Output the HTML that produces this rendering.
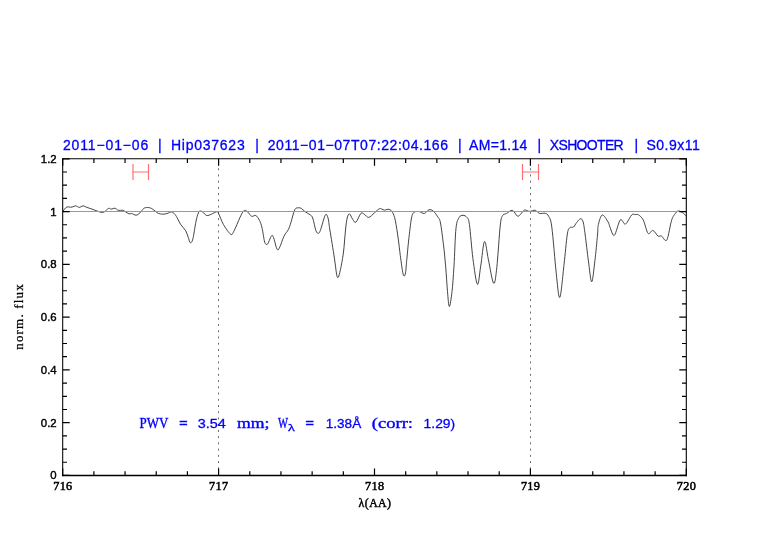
<!DOCTYPE html>
<html><head><meta charset="utf-8"><style>
html,body{margin:0;padding:0;background:#fff;width:782px;height:542px;overflow:hidden;font-family:"Liberation Serif",serif;}
svg{display:block;will-change:transform}
</style></head><body>
<svg width="782" height="542" viewBox="0 0 782 542">
<rect width="782" height="542" fill="#fff"/>
<line x1="218.5" y1="162.0" x2="218.5" y2="475.45" stroke="#707070" stroke-width="1" stroke-dasharray="2 4.231"/>
<line x1="530.5" y1="162.0" x2="530.5" y2="475.45" stroke="#707070" stroke-width="1" stroke-dasharray="2 4.231"/>
<path d="M63.2 211.0 C63.4 210.7 63.9 209.8 64.5 209.1 C65.1 208.4 66.2 207.2 67.0 206.9 C67.8 206.6 68.8 207.1 69.6 207.1 C70.4 207.1 71.1 207.3 72.1 207.1 C73.1 206.9 74.6 205.8 75.8 205.8 C77.0 205.9 78.0 207.4 79.2 207.4 C80.4 207.4 81.7 205.9 83.0 205.9 C84.3 205.9 85.4 206.9 86.9 207.4 C88.4 207.9 90.3 208.5 92.0 209.1 C93.7 209.7 95.6 210.5 97.1 211.0 C98.6 211.5 99.7 212.1 100.9 212.3 C102.1 212.5 102.8 212.7 104.1 212.0 C105.4 211.3 107.4 208.9 108.6 208.4 C109.8 207.9 110.1 209.1 111.2 209.1 C112.3 209.1 113.8 208.0 115.0 208.2 C116.2 208.4 116.9 210.0 118.2 210.3 C119.5 210.7 121.5 210.1 122.7 210.3 C123.9 210.5 124.1 211.0 125.2 211.6 C126.3 212.2 128.0 213.6 129.1 213.9 C130.2 214.2 130.4 213.3 131.6 213.5 C132.8 213.7 134.7 215.3 136.1 215.2 C137.5 215.1 138.6 214.0 139.9 212.9 C141.2 211.8 142.5 209.3 143.8 208.4 C145.1 207.5 146.3 207.5 147.6 207.5 C148.9 207.5 150.0 207.7 151.4 208.4 C152.8 209.1 154.8 210.8 155.9 211.6 C157.0 212.4 157.1 212.9 158.2 213.3 C159.3 213.7 161.2 214.2 162.7 214.2 C164.2 214.2 165.6 213.9 167.1 213.5 C168.6 213.1 170.3 211.9 171.6 212.0 C172.9 212.1 173.7 213.0 174.8 214.2 C175.9 215.4 177.0 217.6 178.0 219.3 C179.0 221.0 179.3 222.5 180.6 224.4 C181.9 226.3 184.4 228.7 185.7 230.8 C187.0 232.9 187.4 235.2 188.2 237.2 C189.0 239.2 189.5 242.4 190.3 242.7 C191.1 243.0 192.0 242.3 192.9 238.8 C193.8 235.3 195.0 226.2 195.9 221.9 C196.8 217.6 197.6 214.6 198.4 212.8 C199.2 211.0 199.8 211.1 200.5 211.0 C201.2 210.9 201.5 211.2 202.6 212.0 C203.7 212.8 205.4 215.1 206.8 215.5 C208.2 215.9 209.6 214.8 211.3 214.2 C213.0 213.5 215.8 211.8 217.0 211.6 C218.2 211.4 217.2 210.8 218.3 212.9 C219.4 215.0 221.4 220.9 223.4 224.4 C225.4 227.9 228.9 233.0 230.6 234.2 C232.3 235.3 232.2 234.1 233.8 231.3 C235.4 228.5 238.5 220.6 240.0 217.4 C241.5 214.2 242.1 213.1 242.9 211.9 C243.7 210.7 244.2 210.4 245.0 210.4 C245.8 210.4 246.5 210.9 247.6 211.9 C248.7 212.9 250.3 215.7 251.7 216.3 C253.1 216.9 254.5 214.8 255.8 215.5 C257.1 216.2 258.6 218.5 259.6 220.6 C260.7 222.7 261.2 224.6 262.1 228.2 C263.0 231.8 263.8 239.5 264.7 242.1 C265.6 244.7 266.3 245.1 267.6 244.0 C268.9 242.9 270.8 234.7 272.4 235.5 C273.9 236.3 275.7 246.8 276.9 248.9 C278.1 251.0 278.2 250.0 279.4 247.9 C280.6 245.8 282.4 239.5 283.9 236.4 C285.4 233.3 287.2 231.8 288.4 229.5 C289.6 227.2 289.8 225.8 290.9 222.5 C292.0 219.2 293.5 212.1 294.8 209.7 C296.1 207.2 297.5 208.0 298.6 207.8 C299.7 207.6 300.1 207.8 301.2 208.4 C302.3 209.0 303.5 210.5 305.0 211.6 C306.5 212.7 308.8 213.7 310.1 214.8 C311.4 215.9 311.7 215.4 312.7 218.0 C313.7 220.6 314.9 228.0 315.9 230.6 C316.8 233.2 317.7 233.3 318.4 233.3 C319.1 233.3 319.1 233.6 320.3 230.6 C321.5 227.6 324.0 217.2 325.3 215.1 C326.6 213.0 327.2 215.5 328.0 218.0 C328.8 220.5 328.8 223.3 329.9 230.0 C331.0 236.7 333.2 250.3 334.4 258.1 C335.6 265.9 336.3 274.4 337.2 276.8 C338.1 279.2 338.8 276.4 339.8 272.4 C340.8 268.4 342.4 260.1 343.4 253.0 C344.3 245.9 344.9 235.8 345.5 230.0 C346.1 224.2 346.5 220.7 347.2 218.0 C347.9 215.3 348.6 213.7 349.5 213.9 C350.4 214.1 351.6 217.9 352.7 219.3 C353.8 220.7 354.5 223.2 355.9 222.2 C357.3 221.2 359.5 214.7 360.9 213.4 C362.3 212.1 362.9 213.5 364.2 214.2 C365.5 214.9 367.0 217.6 368.7 217.4 C370.4 217.2 372.6 214.4 374.4 212.9 C376.2 211.4 378.1 209.3 379.4 208.7 C380.6 208.1 381.0 208.9 381.9 209.1 C382.8 209.3 383.4 210.1 384.6 210.1 C385.8 210.1 387.8 208.9 389.1 209.3 C390.4 209.7 391.5 210.6 392.5 212.4 C393.5 214.2 394.3 215.8 395.3 220.4 C396.3 225.0 397.6 234.2 398.4 240.0 C399.2 245.8 399.5 249.8 400.3 255.5 C401.1 261.2 402.3 270.9 403.1 274.0 C403.9 277.1 404.7 276.4 405.3 274.0 C405.9 271.6 406.2 265.1 406.8 259.4 C407.4 253.7 407.9 246.9 408.7 240.0 C409.5 233.1 410.6 222.6 411.5 218.0 C412.4 213.4 412.8 213.4 414.1 212.3 C415.4 211.2 417.5 211.4 419.2 211.6 C420.9 211.8 422.7 213.8 424.3 213.5 C425.9 213.2 427.4 210.2 428.9 209.8 C430.4 209.4 431.7 209.8 433.2 211.0 C434.7 212.2 436.6 214.9 437.8 216.9 C439.0 218.9 439.6 218.3 440.5 223.0 C441.4 227.7 442.6 237.8 443.5 244.9 C444.4 252.0 444.9 258.0 445.6 265.8 C446.3 273.6 446.9 284.9 447.5 291.7 C448.1 298.5 448.6 306.5 449.4 306.5 C450.1 306.5 451.2 298.5 452.0 291.7 C452.8 284.9 453.3 276.4 454.0 265.8 C454.7 255.2 455.1 236.3 456.0 228.2 C456.9 220.1 458.0 219.6 459.2 217.4 C460.4 215.2 461.7 215.3 463.0 215.3 C464.3 215.3 465.8 215.9 466.9 217.4 C468.0 218.9 468.4 217.6 469.4 224.4 C470.4 231.2 471.6 248.4 472.9 258.4 C474.2 268.4 476.1 283.0 477.4 284.3 C478.7 285.6 479.5 273.3 480.7 266.2 C481.9 259.1 483.2 242.7 484.5 241.6 C485.8 240.5 486.9 252.8 488.4 259.7 C489.9 266.6 492.2 281.9 493.6 283.2 C495.0 284.5 495.7 277.2 496.8 267.5 C497.9 257.8 499.3 233.7 500.3 225.0 C501.3 216.3 501.7 217.4 502.7 215.5 C503.7 213.6 504.9 214.4 506.5 213.5 C508.1 212.6 510.5 209.9 512.3 210.3 C514.1 210.7 516.0 215.4 517.4 216.1 C518.8 216.8 519.4 215.2 520.6 214.2 C521.8 213.2 522.9 210.6 524.4 210.1 C525.9 209.6 527.7 211.4 529.5 211.4 C531.3 211.4 533.6 210.0 535.3 210.3 C536.9 210.6 537.7 212.9 539.4 213.4 C541.1 213.9 543.8 212.9 545.3 213.3 C546.8 213.8 547.4 213.8 548.5 216.1 C549.6 218.4 550.5 217.4 551.8 227.0 C553.1 236.6 555.0 262.1 556.3 273.8 C557.6 285.5 558.5 298.9 559.8 297.4 C561.1 295.9 562.8 275.1 564.0 264.7 C565.2 254.3 566.3 241.2 567.2 235.0 C568.1 228.8 568.6 229.1 569.6 227.8 C570.6 226.5 572.3 227.9 573.5 227.0 C574.7 226.1 575.5 223.9 576.7 222.5 C577.9 221.1 579.4 218.9 580.5 218.8 C581.6 218.7 582.3 219.2 583.1 221.9 C583.9 224.6 584.3 228.5 585.2 235.0 C586.1 241.5 587.3 253.0 588.4 260.8 C589.5 268.6 590.6 281.8 591.7 281.8 C592.8 281.8 593.9 268.6 594.9 260.8 C595.9 253.0 596.9 241.1 597.5 235.0 C598.1 228.9 597.6 227.7 598.4 224.4 C599.2 221.1 600.7 215.4 602.3 215.0 C603.9 214.6 606.7 219.9 608.0 221.9 C609.3 223.9 609.0 225.0 610.0 227.2 C611.0 229.4 612.6 236.5 614.3 235.3 C616.0 234.1 618.5 221.9 620.2 220.0 C621.9 218.1 623.5 223.6 624.6 224.0 C625.7 224.4 625.8 224.0 627.0 222.5 C628.2 221.0 630.4 216.1 631.8 214.8 C633.2 213.5 634.1 214.6 635.2 214.6 C636.3 214.6 637.1 214.0 638.5 214.9 C639.9 215.8 641.7 217.0 643.3 220.1 C644.9 223.2 646.5 231.7 648.1 233.4 C649.7 235.1 651.2 230.0 652.9 230.4 C654.6 230.8 656.7 235.2 658.1 236.1 C659.5 237.0 660.0 235.3 661.5 236.0 C663.0 236.7 665.1 242.6 666.8 240.0 C668.5 237.4 670.1 224.8 671.6 220.3 C673.1 215.8 674.4 214.8 675.5 213.2 C676.6 211.6 677.3 211.1 678.5 211.0 C679.7 210.9 681.2 211.7 682.5 212.6 C683.8 213.5 685.8 215.7 686.4 216.3" fill="none" stroke="#303030" stroke-width="0.9" stroke-linejoin="round"/>
<line x1="62.7" y1="211.5" x2="686.3" y2="211.5" stroke="#ff6e6e" stroke-width="1.2"/>
<path d="M133.0 164 V180 M148.5 164 V180 M133.0 172 H148.5" fill="none" stroke="#ff7070" stroke-width="1.2"/>
<path d="M522.5 164 V180 M538.5 164 V180 M522.5 172 H538.5" fill="none" stroke="#ff7070" stroke-width="1.2"/>
<path d="M62.70 475.45 v-7 M62.70 158.8 v7 M93.88 475.45 v-4.3 M93.88 158.8 v4.3 M125.06 475.45 v-4.3 M125.06 158.8 v4.3 M156.24 475.45 v-4.3 M156.24 158.8 v4.3 M187.42 475.45 v-4.3 M187.42 158.8 v4.3 M218.60 475.45 v-7 M218.60 158.8 v7 M249.78 475.45 v-4.3 M249.78 158.8 v4.3 M280.96 475.45 v-4.3 M280.96 158.8 v4.3 M312.14 475.45 v-4.3 M312.14 158.8 v4.3 M343.32 475.45 v-4.3 M343.32 158.8 v4.3 M374.50 475.45 v-7 M374.50 158.8 v7 M405.68 475.45 v-4.3 M405.68 158.8 v4.3 M436.86 475.45 v-4.3 M436.86 158.8 v4.3 M468.04 475.45 v-4.3 M468.04 158.8 v4.3 M499.22 475.45 v-4.3 M499.22 158.8 v4.3 M530.40 475.45 v-7 M530.40 158.8 v7 M561.58 475.45 v-4.3 M561.58 158.8 v4.3 M592.76 475.45 v-4.3 M592.76 158.8 v4.3 M623.94 475.45 v-4.3 M623.94 158.8 v4.3 M655.12 475.45 v-4.3 M655.12 158.8 v4.3 M686.30 475.45 v-7 M686.30 158.8 v7 M62.7 475.45 h7 M686.3 475.45 h-7 M62.7 462.26 h4.3 M686.3 462.26 h-4.3 M62.7 449.06 h4.3 M686.3 449.06 h-4.3 M62.7 435.87 h4.3 M686.3 435.87 h-4.3 M62.7 422.68 h7 M686.3 422.68 h-7 M62.7 409.48 h4.3 M686.3 409.48 h-4.3 M62.7 396.29 h4.3 M686.3 396.29 h-4.3 M62.7 383.09 h4.3 M686.3 383.09 h-4.3 M62.7 369.90 h7 M686.3 369.90 h-7 M62.7 356.71 h4.3 M686.3 356.71 h-4.3 M62.7 343.51 h4.3 M686.3 343.51 h-4.3 M62.7 330.32 h4.3 M686.3 330.32 h-4.3 M62.7 317.12 h7 M686.3 317.12 h-7 M62.7 303.93 h4.3 M686.3 303.93 h-4.3 M62.7 290.74 h4.3 M686.3 290.74 h-4.3 M62.7 277.54 h4.3 M686.3 277.54 h-4.3 M62.7 264.35 h7 M686.3 264.35 h-7 M62.7 251.16 h4.3 M686.3 251.16 h-4.3 M62.7 237.96 h4.3 M686.3 237.96 h-4.3 M62.7 224.77 h4.3 M686.3 224.77 h-4.3 M62.7 211.57 h7 M686.3 211.57 h-7 M62.7 198.38 h4.3 M686.3 198.38 h-4.3 M62.7 185.19 h4.3 M686.3 185.19 h-4.3 M62.7 171.99 h4.3 M686.3 171.99 h-4.3 M62.7 158.80 h7 M686.3 158.80 h-7" fill="none" stroke="#000" stroke-width="1.2"/>
<path d="M62.7 158.25 V476.15" stroke="#000" stroke-width="1.05" fill="none"/>
<path d="M686.3 158.25 V476.15" stroke="#000" stroke-width="1.1" fill="none"/>
<path d="M62.2 158.8 H686.8499999999999" stroke="#000" stroke-width="1.1" fill="none"/>
<path d="M62.2 475.45 H686.8499999999999" stroke="#000" stroke-width="1.5" fill="none"/>
<text x="62.7" y="490.3" text-anchor="middle" font-family="Liberation Serif, serif" font-size="12.2" fill="#000" stroke="#000" stroke-width="0.55" textLength="19.0" lengthAdjust="spacing">716</text>
<text x="218.6" y="490.3" text-anchor="middle" font-family="Liberation Serif, serif" font-size="12.2" fill="#000" stroke="#000" stroke-width="0.55" textLength="19.0" lengthAdjust="spacing">717</text>
<text x="374.5" y="490.3" text-anchor="middle" font-family="Liberation Serif, serif" font-size="12.2" fill="#000" stroke="#000" stroke-width="0.55" textLength="19.0" lengthAdjust="spacing">718</text>
<text x="530.4" y="490.3" text-anchor="middle" font-family="Liberation Serif, serif" font-size="12.2" fill="#000" stroke="#000" stroke-width="0.55" textLength="19.0" lengthAdjust="spacing">719</text>
<text x="686.3" y="490.3" text-anchor="middle" font-family="Liberation Serif, serif" font-size="12.2" fill="#000" stroke="#000" stroke-width="0.55" textLength="19.0" lengthAdjust="spacing">720</text>
<text x="56.7" y="479.4" text-anchor="end" font-family="Liberation Sans, sans-serif" font-size="11.4" fill="#000" stroke="#000" stroke-width="0.4">0</text>
<text x="56.7" y="426.7" text-anchor="end" font-family="Liberation Sans, sans-serif" font-size="11.4" fill="#000" stroke="#000" stroke-width="0.4">0.2</text>
<text x="56.7" y="373.9" text-anchor="end" font-family="Liberation Sans, sans-serif" font-size="11.4" fill="#000" stroke="#000" stroke-width="0.4">0.4</text>
<text x="56.7" y="321.1" text-anchor="end" font-family="Liberation Sans, sans-serif" font-size="11.4" fill="#000" stroke="#000" stroke-width="0.4">0.6</text>
<text x="56.7" y="268.4" text-anchor="end" font-family="Liberation Sans, sans-serif" font-size="11.4" fill="#000" stroke="#000" stroke-width="0.4">0.8</text>
<text x="56.7" y="215.6" text-anchor="end" font-family="Liberation Sans, sans-serif" font-size="11.4" fill="#000" stroke="#000" stroke-width="0.4">1</text>
<text x="56.7" y="162.8" text-anchor="end" font-family="Liberation Sans, sans-serif" font-size="11.4" fill="#000" stroke="#000" stroke-width="0.4">1.2</text>
<text x="358.6" y="506.9" font-family="Liberation Serif, serif" font-size="11.8" fill="#000" stroke="#000" stroke-width="0.45" textLength="32.4" lengthAdjust="spacing">&#955;(AA)</text>
<text transform="translate(23.2 317) rotate(-90)" x="-32.8" y="0" font-family="Liberation Serif, serif" font-size="13" fill="#000" stroke="#000" stroke-width="0.25" textLength="65.6" lengthAdjust="spacing">norm. flux</text>
<text x="62.9" y="150.1" font-family="Liberation Sans, sans-serif" font-size="14" fill="#0000ff" stroke="#0000ff" stroke-width="0.3" textLength="85.4" lengthAdjust="spacing">2011&#8722;01&#8722;06</text>
<text x="158.0" y="150.1" font-family="Liberation Sans, sans-serif" font-size="14" fill="#0000ff" stroke="#0000ff" stroke-width="0.3" textLength="2.3" lengthAdjust="spacing">|</text>
<text x="170.9" y="150.1" font-family="Liberation Sans, sans-serif" font-size="14" fill="#0000ff" stroke="#0000ff" stroke-width="0.3" textLength="73.8" lengthAdjust="spacing">Hip037623</text>
<text x="255.3" y="150.1" font-family="Liberation Sans, sans-serif" font-size="14" fill="#0000ff" stroke="#0000ff" stroke-width="0.3" textLength="2.9" lengthAdjust="spacing">|</text>
<text x="267.7" y="150.1" font-family="Liberation Sans, sans-serif" font-size="14" fill="#0000ff" stroke="#0000ff" stroke-width="0.3" textLength="180.3" lengthAdjust="spacing">2011&#8722;01&#8722;07T07:22:04.166</text>
<text x="458.0" y="150.1" font-family="Liberation Sans, sans-serif" font-size="14" fill="#0000ff" stroke="#0000ff" stroke-width="0.3" textLength="2.3" lengthAdjust="spacing">|</text>
<text x="469.1" y="150.1" font-family="Liberation Sans, sans-serif" font-size="14" fill="#0000ff" stroke="#0000ff" stroke-width="0.3" textLength="58.2" lengthAdjust="spacing">AM=1.14</text>
<text x="537.6" y="150.1" font-family="Liberation Sans, sans-serif" font-size="14" fill="#0000ff" stroke="#0000ff" stroke-width="0.3" textLength="3.0" lengthAdjust="spacing">|</text>
<text x="549.8" y="150.1" font-family="Liberation Sans, sans-serif" font-size="14" fill="#0000ff" stroke="#0000ff" stroke-width="0.3" textLength="73.9" lengthAdjust="spacing">XSHOOTER</text>
<text x="634.6" y="150.1" font-family="Liberation Sans, sans-serif" font-size="14" fill="#0000ff" stroke="#0000ff" stroke-width="0.3" textLength="3.2" lengthAdjust="spacing">|</text>
<text x="646.5" y="150.1" font-family="Liberation Sans, sans-serif" font-size="14" fill="#0000ff" stroke="#0000ff" stroke-width="0.3" textLength="53.3" lengthAdjust="spacing">S0.9x11</text>
<text x="139.6" y="428.2" font-family="Liberation Serif, serif" font-size="14" fill="#0000ff" stroke="#0000ff" stroke-width="0.35" textLength="28.8" lengthAdjust="spacingAndGlyphs">PWV</text>
<text x="179.2" y="427.3" font-family="Liberation Sans, sans-serif" font-size="13.4" fill="#0000ff" stroke="#0000ff" stroke-width="0.6" textLength="8.3" lengthAdjust="spacingAndGlyphs">=</text>
<text x="197.8" y="428.0" font-family="Liberation Sans, sans-serif" font-size="13.4" fill="#0000ff" stroke="#0000ff" stroke-width="0.3" textLength="28.1" lengthAdjust="spacingAndGlyphs">3.54</text>
<text x="237.0" y="428.2" font-family="Liberation Serif, serif" font-size="14" fill="#0000ff" stroke="#0000ff" stroke-width="0.35" textLength="32.5" lengthAdjust="spacingAndGlyphs">mm;</text>
<text x="278.0" y="428.2" font-family="Liberation Serif, serif" font-size="14" fill="#0000ff" stroke="#0000ff" stroke-width="0.35" textLength="10.0" lengthAdjust="spacingAndGlyphs">W</text>
<text x="305.6" y="427.3" font-family="Liberation Sans, sans-serif" font-size="13.4" fill="#0000ff" stroke="#0000ff" stroke-width="0.6" textLength="8.4" lengthAdjust="spacingAndGlyphs">=</text>
<text x="325.8" y="428.0" font-family="Liberation Sans, sans-serif" font-size="13.4" fill="#0000ff" stroke="#0000ff" stroke-width="0.3" textLength="35.4" lengthAdjust="spacingAndGlyphs">1.38&#197;</text>
<text x="371.8" y="428.2" font-family="Liberation Serif, serif" font-size="14" fill="#0000ff" stroke="#0000ff" stroke-width="0.35" textLength="41.2" lengthAdjust="spacingAndGlyphs">(corr:</text>
<text x="423.6" y="428.0" font-family="Liberation Sans, sans-serif" font-size="13.4" fill="#0000ff" stroke="#0000ff" stroke-width="0.3" textLength="31.6" lengthAdjust="spacingAndGlyphs">1.29)</text>
<text x="288.0" y="431.2" font-family="Liberation Serif, serif" font-size="11.2" fill="#0000ff" stroke="#0000ff" stroke-width="0.4" textLength="6.8" lengthAdjust="spacingAndGlyphs">&#955;</text>
</svg>
</body></html>
